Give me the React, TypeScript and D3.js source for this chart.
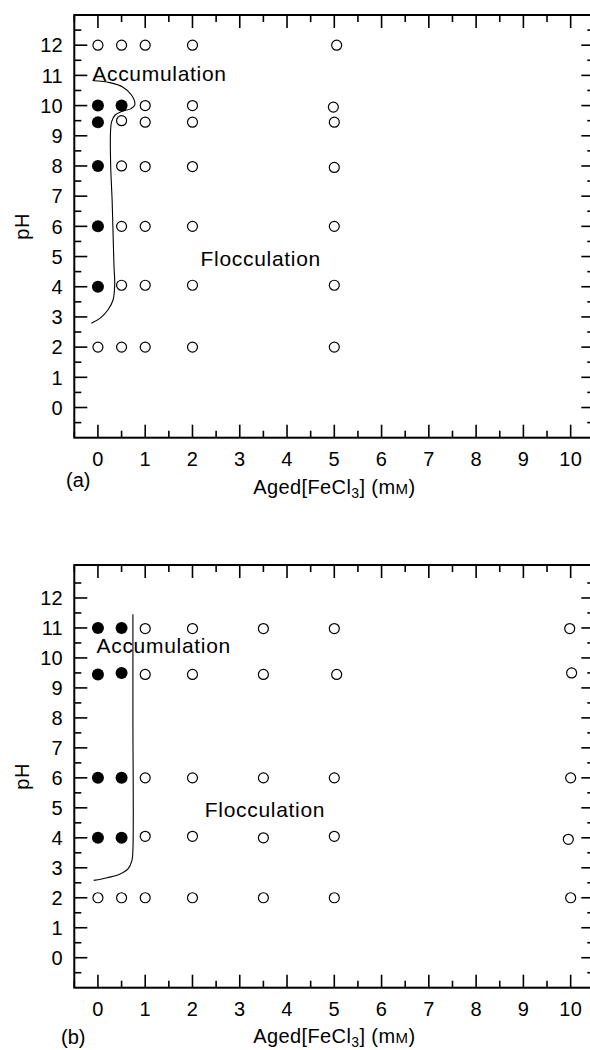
import React from "react";
import * as d3 from "d3";

// ---------- data ----------
const xTickValues = [0, 1, 2, 3, 4, 5, 6, 7, 8, 9, 10];
const xMinorTicks = [-0.5, 0.5, 1.5, 2.5, 3.5, 4.5, 5.5, 6.5, 7.5, 8.5, 9.5, 10.5];
const yTickValues = [0, 1, 2, 3, 4, 5, 6, 7, 8, 9, 10, 11, 12];
const yMinorTicks = [-0.5, 0.5, 1.5, 2.5, 3.5, 4.5, 5.5, 6.5, 7.5, 8.5, 9.5, 10.5, 11.5, 12.5];

// panel (a): [Aged FeCl3 (mM), pH]
const accumulationA: [number, number][] = [
  [0, 10], [0.5, 10], [0, 9.45], [0, 8], [0, 6], [0, 4],
];
const flocculationA: [number, number][] = [
  [0, 12], [0.5, 12], [1, 12], [2, 12], [5.05, 12],
  [1, 10], [2, 10], [4.98, 9.95],
  [0.5, 9.5], [1, 9.45], [2, 9.45], [5, 9.45],
  [0.5, 8], [1, 7.98], [2, 7.98], [5, 7.95],
  [0.5, 6], [1, 6], [2, 6], [5, 6],
  [0.5, 4.05], [1, 4.05], [2, 4.05], [5, 4.05],
  [0, 2], [0.5, 2], [1, 2], [2, 2], [5, 2],
];
const boundaryA: [number, number][] = [
  [-0.09, 10.82], [0.25, 10.76], [0.53, 10.61], [0.71, 10.35], [0.78, 10.02],
  [0.7, 9.9], [0.5, 9.8], [0.36, 9.68], [0.29, 9.47], [0.265, 9.08],
  [0.27, 7.98], [0.3, 6.87], [0.32, 5.77], [0.34, 4.66], [0.355, 4.11],
  [0.32, 3.56], [0.21, 3.23], [0.04, 2.95], [-0.14, 2.79],
];

// panel (b)
const accumulationB: [number, number][] = [
  [0, 11], [0.5, 11], [0, 9.45], [0.5, 9.5], [0, 6], [0.5, 6], [0, 4], [0.5, 4],
];
const flocculationB: [number, number][] = [
  [1, 10.98], [2, 10.98], [3.5, 10.98], [5, 10.98], [9.98, 10.98],
  [1, 9.45], [2, 9.45], [3.5, 9.45], [5.05, 9.45], [10.02, 9.5],
  [1, 6], [2, 6], [3.5, 6], [5, 6], [10, 6],
  [1, 4.05], [2, 4.05], [3.5, 4], [5, 4.05], [9.95, 3.95],
  [0, 2], [0.5, 2], [1, 2], [2, 2], [3.5, 2], [5, 2], [10, 2],
];
const boundaryB: [number, number][] = [
  [0.74, 11.46], [0.74, 8], [0.74, 3.6], [0.72, 3.25], [0.64, 2.97],
  [0.45, 2.78], [0.2, 2.67], [-0.09, 2.58],
];

const regionLabels = ["Accumulation", "Flocculation"];
const labelAnchorsA: [number, number][] = [[-0.12, 10.8], [2.17, 4.68]];
const labelAnchorsB: [number, number][] = [[-0.03, 10.16], [2.26, 4.69]];

// ---------- layout ----------
const W = 590;
const H = 1050;
const LEFT = 74.3;
const RIGHT = 594.3;
const FONT = "'Liberation Sans', Arial, Helvetica, sans-serif";

type PanelProps = {
  top: number;
  bottom: number;
  yMax: number;
  filled: [number, number][];
  open: [number, number][];
  boundary: [number, number][];
  anchors: [number, number][];
  letter: string;
  letterX: number;
  letterDy: number;
  titleDy: number;
};

function Panel(p: PanelProps) {
  const x = d3.scaleLinear().domain([-0.5, 10.5]).range([LEFT, RIGHT]);
  const y = d3.scaleLinear().domain([-1, p.yMax]).range([p.bottom, p.top]);
  const line = d3
    .line<[number, number]>()
    .x((d) => x(d[0]))
    .y((d) => y(d[1]))
    .curve(d3.curveCatmullRom.alpha(0.5));
  const MAJ = 13;
  const MIN = 7;
  const tickColor = "#000";
  const fs = 20;
  return (
    <g>
      {/* frame */}
      <rect x={LEFT} y={p.top} width={RIGHT - LEFT} height={p.bottom - p.top} fill="none" stroke="#000" strokeWidth={2} />
      {/* x ticks */}
      {xTickValues.map((v) => (
        <g key={"xt" + v}>
          <line x1={x(v)} x2={x(v)} y1={p.bottom} y2={p.bottom - MAJ} stroke={tickColor} strokeWidth={1.6} />
          <line x1={x(v)} x2={x(v)} y1={p.top} y2={p.top + MAJ} stroke={tickColor} strokeWidth={1.6} />
          <text x={x(v)} y={p.bottom + 28} textAnchor="middle" fontSize={fs} fontFamily={FONT} letterSpacing={0.3}>
            {v}
          </text>
        </g>
      ))}
      {xMinorTicks.map((v) => (
        <g key={"xm" + v}>
          <line x1={x(v)} x2={x(v)} y1={p.bottom} y2={p.bottom - MIN} stroke={tickColor} strokeWidth={1.6} />
          <line x1={x(v)} x2={x(v)} y1={p.top} y2={p.top + MIN} stroke={tickColor} strokeWidth={1.6} />
        </g>
      ))}
      {/* y ticks */}
      {yTickValues.map((v) => (
        <g key={"yt" + v}>
          <line x1={LEFT} x2={LEFT + MAJ} y1={y(v)} y2={y(v)} stroke={tickColor} strokeWidth={1.6} />
          <line x1={RIGHT} x2={RIGHT - MAJ} y1={y(v)} y2={y(v)} stroke={tickColor} strokeWidth={1.6} />
          <text x={63} y={y(v)} dy="0.36em" textAnchor="end" fontSize={fs} fontFamily={FONT} letterSpacing={0.3}>
            {v}
          </text>
        </g>
      ))}
      {yMinorTicks.map((v) => (
        <g key={"ym" + v}>
          <line x1={LEFT} x2={LEFT + MIN} y1={y(v)} y2={y(v)} stroke={tickColor} strokeWidth={1.6} />
          <line x1={RIGHT} x2={RIGHT - MIN} y1={y(v)} y2={y(v)} stroke={tickColor} strokeWidth={1.6} />
        </g>
      ))}
      {/* axis titles */}
      <text
        transform={`translate(22,${(p.top + p.bottom) / 2}) rotate(-90)`}
        textAnchor="middle"
        dy="0.36em"
        fontSize={fs}
        fontFamily={FONT}
        letterSpacing={0.6}
      >
        pH
      </text>
      <text x={(LEFT + RIGHT) / 2} y={p.bottom + p.titleDy} textAnchor="middle" fontSize={fs} fontFamily={FONT} letterSpacing={0.4}>
        Aged[FeCl
        <tspan fontSize={14} dy={4}>3</tspan>
        <tspan dy={-4}>] (m</tspan>
        <tspan fontSize={15}>M</tspan>
        <tspan>)</tspan>
      </text>
      <text x={p.letterX} y={p.bottom + p.letterDy} fontSize={fs} fontFamily={FONT}>
        {p.letter}
      </text>
      {/* boundary */}
      <path d={line(p.boundary) || ""} fill="none" stroke="#000" strokeWidth={1.1} />
      {/* region labels */}
      {regionLabels.map((t, i) => (
        <text
          key={t}
          x={x(p.anchors[i][0])}
          y={y(p.anchors[i][1])}
          fontSize={21}
          fontFamily={FONT}
          letterSpacing={0.7}
          fill="#000"
        >
          {t}
        </text>
      ))}
      {/* markers */}
      {p.open.map((d, i) => (
        <circle key={"o" + i} cx={x(d[0])} cy={y(d[1])} r={5} fill="#fff" stroke="#000" strokeWidth={1.2} />
      ))}
      {p.filled.map((d, i) => (
        <circle key={"f" + i} cx={x(d[0])} cy={y(d[1])} r={6} fill="#000" />
      ))}
    </g>
  );
}

export default function App() {
  return (
    <svg
      width={W}
      height={H}
      viewBox={`0 0 ${W} ${H}`}
      style={{ position: "absolute", left: 0, top: 0, background: "#fff" }}
    >
      <rect x={0} y={0} width={W} height={H} fill="#fff" />
      <Panel
        top={15}
        bottom={437.7}
        yMax={13}
        filled={accumulationA}
        open={flocculationA}
        boundary={boundaryA}
        anchors={labelAnchorsA}
        letter="(a)"
        letterX={66}
        letterDy={49}
        titleDy={56}
      />
      <Panel
        top={565}
        bottom={987.7}
        yMax={13.1}
        filled={accumulationB}
        open={flocculationB}
        boundary={boundaryB}
        anchors={labelAnchorsB}
        letter="(b)"
        letterX={61}
        letterDy={56}
        titleDy={55}
      />
    </svg>
  );
}
